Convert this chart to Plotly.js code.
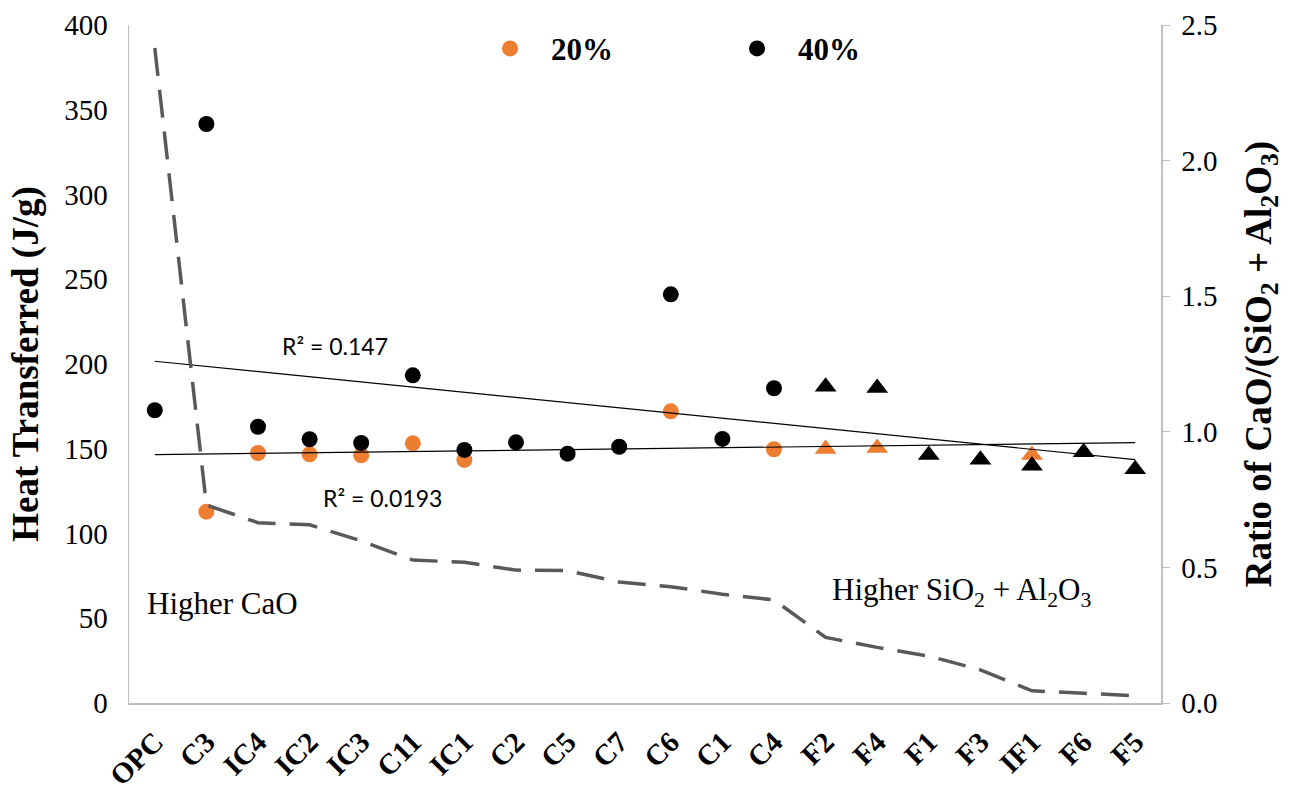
<!DOCTYPE html>
<html>
<head>
<meta charset="utf-8">
<script src="https://cdn.plot.ly/plotly-3.0.1.min.js"></script>
<style>
html,body{margin:0;padding:0;background:#fff;}
#chart{width:1291px;height:791px;}
</style>
</head>
<body>
<div id="chart"></div>
<script>
// ---- data ----
const categories = ['OPC','C3','IC4','IC2','IC3','C11','IC1','C2','C5','C7','C6','C1','C4','F2','F4','F1','F3','IF1','F6','F5'];
const heat40 = [172.7, 341.6, 163.0, 155.6, 153.4, 193.3, 149.3, 153.8, 147.1, 151.2, 241.1, 155.8, 185.7, 186.6, 185.8, 146.3, 143.5, 140.0, 147.9, 137.9];
const heat20 = [null, 112.9, 147.5, 146.7, 146.1, 153.2, 143.4, null, null, null, 172.1, null, 149.7, 149.9, 150.4, null, null, 146.3, null, null];
const ratioCaO = [2.415, 0.730, 0.665, 0.657, 0.598, 0.527, 0.519, 0.490, 0.488, 0.446, 0.429, 0.401, 0.380, 0.242, 0.205, 0.173, 0.122, 0.045, 0.036, 0.027];
const trend20Ends = [146.5, 153.6];      // linear trendline of 20% series (first / last category)
const r2Labels = ['R² = 0.147', 'R² = 0.0193'];
const seriesNames = ['20%', '40%'];

// ---- linear fit for the 40% series (x = 1..n) ----
function linFit(ys){
  const n = ys.length; let sx=0, sy=0, sxy=0, sxx=0;
  ys.forEach((y,i)=>{const x=i+1; sx+=x; sy+=y; sxy+=x*y; sxx+=x*x;});
  const b = (n*sxy - sx*sy)/(n*sxx - sx*sx); const a = (sy - b*sx)/n;
  return [a + b*1, a + b*n];
}
const trend40Ends = linFit(heat40);
const ends = [categories[0], categories[categories.length-1]];

// F-type materials are drawn as triangles
const symbols = categories.map(c => /F/.test(c) ? 'triangle-up' : 'circle');
const sizes = categories.map(c => /F/.test(c) ? 19 : 16);

const serif = 'Liberation Serif, Times New Roman, serif';

const traces = [
  {x: categories, y: heat20, type:'scatter', mode:'markers', name:'<b>'+seriesNames[0]+'</b>',
   marker:{color:'#ED7D31', symbol:symbols, size:sizes, opacity:1, line:{width:0}}, cliponaxis:false},
  {x: categories, y: heat40, type:'scatter', mode:'markers', name:'<b>'+seriesNames[1]+'</b>',
   marker:{color:'#000000', symbol:symbols, size:sizes, opacity:1, line:{width:0}}, cliponaxis:false},
  {x: ends, y: trend40Ends, type:'scatter', mode:'lines', showlegend:false,
   line:{color:'#000', width:1.2}, hoverinfo:'skip'},
  {x: ends, y: trend20Ends, type:'scatter', mode:'lines', showlegend:false,
   line:{color:'#000', width:1.2}, hoverinfo:'skip'},
  {x: categories, y: ratioCaO, type:'scatter', mode:'lines', yaxis:'y2', showlegend:false,
   line:{color:'#595959', width:3.5, dash:'28px,14px'}, hoverinfo:'skip'}
];

const layout = {
  width:1291, height:791,
  margin:{l:129, r:130, t:25, b:88},
  paper_bgcolor:'#fff', plot_bgcolor:'#fff',
  showlegend:true,
  legend:{orientation:'h', x:0.3295, y:0.965, xanchor:'left', yanchor:'middle',
    font:{family:serif, size:31, color:'#000'}, itemwidth:72, entrywidth:160, entrywidthmode:'pixels',
    bgcolor:'rgba(0,0,0,0)'},
  xaxis:{type:'category', categoryorder:'array', categoryarray:categories, range:[-0.5, 19.5],
    showline:true, linecolor:'#bfbfbf', linewidth:1.5, ticks:'', showgrid:false, zeroline:false,
    tickangle:-45, ticklabelstandoff:9, tickfont:{family:serif, size:29, color:'#000', weight:'bold'}, automargin:false},
  yaxis:{range:[0,400], dtick:50, showline:true, linecolor:'#bfbfbf', linewidth:1.5, ticks:'',
    showgrid:false, zeroline:false, ticklabelstandoff:14,
    tickfont:{family:serif, size:29, color:'#000'},
    title:{text:'<b>Heat Transferred (J/g)</b>', font:{family:serif, size:37, color:'#000'}, standoff:14},
    automargin:false},
  yaxis2:{overlaying:'y', side:'right', range:[0,2.5], dtick:0.5, tickformat:'.1f',
    showline:true, linecolor:'#bfbfbf', linewidth:1.5, ticks:'outside', ticklen:7, tickcolor:'#bfbfbf',
    showgrid:false, zeroline:false, ticklabelstandoff:6,
    tickfont:{family:serif, size:29, color:'#000'},
    title:{text:'<b>Ratio of CaO/(SiO<sub>2</sub> + Al<sub>2</sub>O<sub>3</sub>)</b>', font:{family:serif, size:37, color:'#000'}, standoff:28},
    automargin:false},
  annotations:[
    {x:3.49, y:210.6, xref:'x', yref:'y', text:r2Labels[0], showarrow:false,
     font:{family:'Lato, Liberation Sans, sans-serif', size:23, color:'#000'}},
    {x:4.42, y:120.9, xref:'x', yref:'y', text:r2Labels[1], showarrow:false,
     font:{family:'Lato, Liberation Sans, sans-serif', size:23, color:'#000'}},
    {x:1.32, y:59, xref:'x', yref:'y', text:'Higher CaO', showarrow:false,
     font:{family:serif, size:31, color:'#000'}},
    {x:15.64, y:65.5, xref:'x', yref:'y', text:'Higher SiO<sub>2</sub> + Al<sub>2</sub>O<sub>3</sub>', showarrow:false,
     font:{family:serif, size:31, color:'#000'}}
  ]
};

Plotly.newPlot('chart', traces, layout, {displayModeBar:false, staticPlot:true});
</script>
</body>
</html>
